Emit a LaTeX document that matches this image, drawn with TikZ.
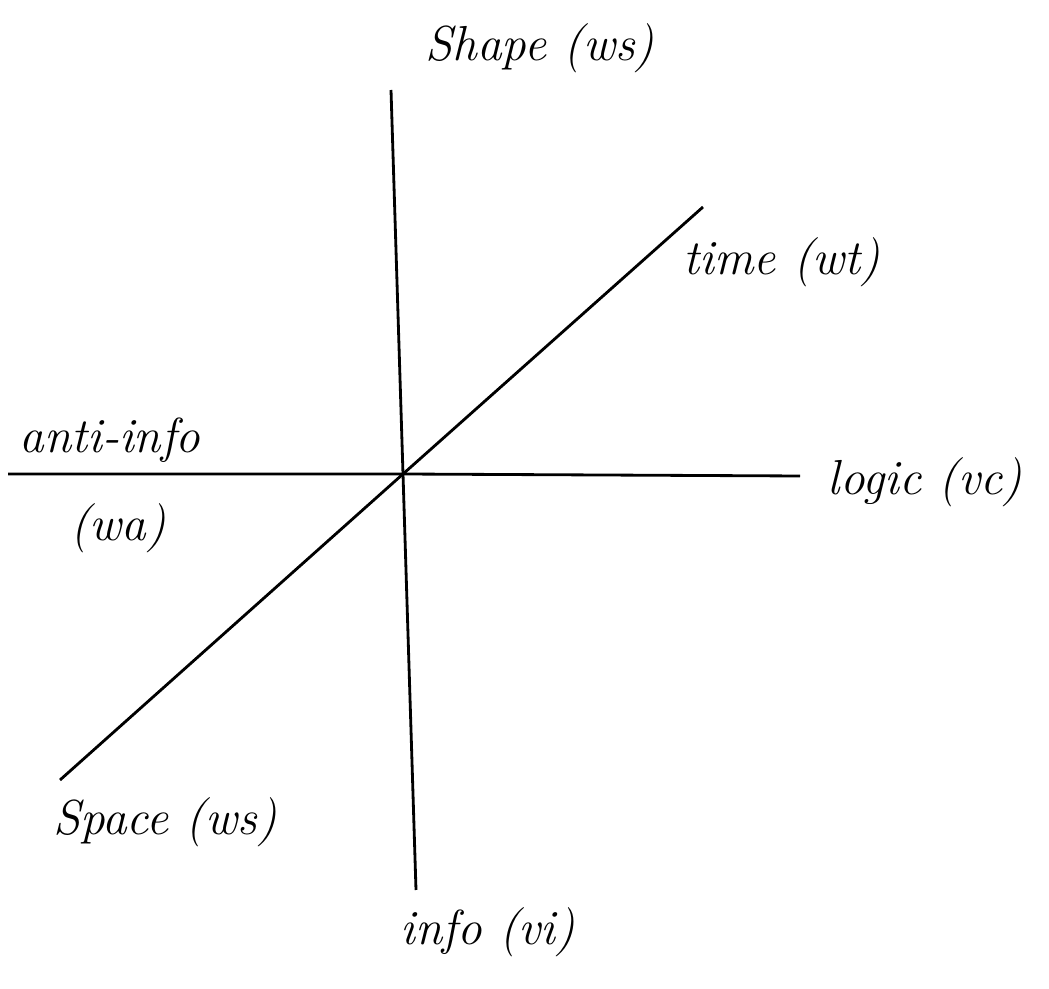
\documentclass[tikz,border=0pt]{standalone}
\begin{document}
\begin{tikzpicture}[x=0.02cm,y=-0.02cm,
  axis/.style={line width=1.6pt,black},
  lbl/.style={font=\fontsize{28}{32}\selectfont\itshape,inner sep=0pt}]
\useasboundingbox (0,0) rectangle (1049,989);
\coordinate (O) at (403,474);
\coordinate (vtop) at (391,90);
\coordinate (vbot) at (416,890);
\coordinate (hl) at (8,474);
\coordinate (hr) at (800,476);
\coordinate (dl) at (60,780);
\coordinate (dr) at (703,207);
\draw[axis] (vtop) -- (O) -- (vbot);
\draw[axis] (hl) -- (O) -- (hr);
\draw[axis] (dl) -- (O) -- (dr);
\node[lbl] (shape) at (540,48) {Shape (ws)};
\node[lbl] (time) at (782,262) {time (wt)};
\node[lbl] (logic) at (925,482) {logic (vc)};
\node[lbl] (anti) at (110,440) {anti-info};
\node[lbl] (wa) at (118,528) {(wa)};
\node[lbl] (space) at (165,822) {Space (ws)};
\node[lbl] (info) at (488,932) {info (vi)};
\end{tikzpicture}
\end{document}
